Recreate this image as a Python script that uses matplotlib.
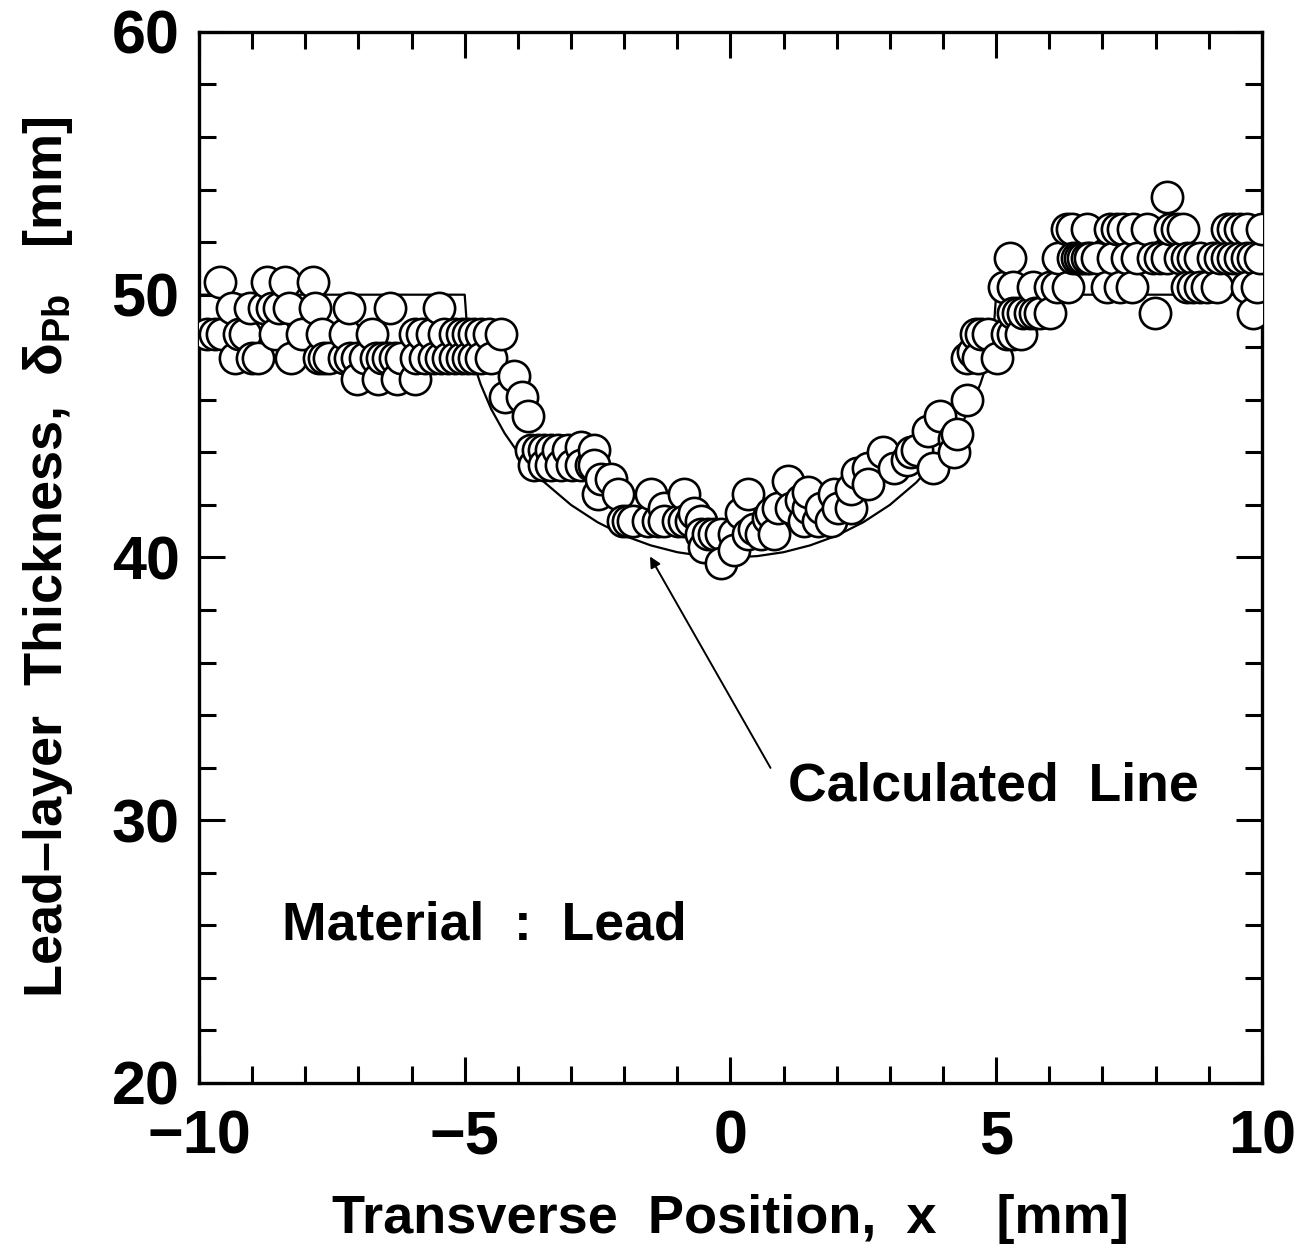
import matplotlib.pyplot as plt
from matplotlib.ticker import MultipleLocator

plt.rcParams['font.family'] = ['Liberation Sans', 'DejaVu Sans']
plt.rcParams['font.weight'] = 'bold'
plt.rcParams['mathtext.fontset'] = 'custom'
plt.rcParams['mathtext.rm'] = 'Liberation Sans:bold'
plt.rcParams['mathtext.it'] = 'Liberation Sans:bold'
plt.rcParams['mathtext.bf'] = 'Liberation Sans:bold'

# measured points, read off the figure
# left plateau (x < -4.3), grouped by thickness level
row_505_x = [-9.61, -8.72, -8.38, -7.86]
row_495_x = [-9.38, -9.04, -8.78, -8.63, -8.50, -8.31, -7.82, -7.18, -6.41, -5.49]
row_485_x = [-9.85, -9.70, -9.57, -9.25, -9.14, -8.57, -8.07, -7.69, -7.26, -6.75,
             -5.94, -5.81, -5.62, -5.38, -5.19, -5.06, -4.93, -4.82, -4.69, -4.55, -4.31]
row_476_x = [-9.32, -9.00, -8.89, -8.27, -7.75, -7.65, -7.56, -7.28, -7.16, -7.03,
             -6.88, -6.66, -6.56, -6.45, -6.32, -6.19, -5.91, -5.74, -5.57, -5.44,
             -5.31, -5.19, -5.06, -4.93, -4.82, -4.69, -4.50]
row_468_x = [-7.03, -6.64, -6.28, -5.94]

# groove region (-4.3 < x < 5.5)
groove_x = [-4.07, -4.25, -3.93, -3.80,
            -3.75, -3.62, -3.50, -3.37, -3.24, -3.05, -2.81, -2.56,
            -3.69, -3.50, -3.37, -3.18, -2.99, -2.81, -2.62, -2.56,
            -2.43, -2.24, -2.49, -2.11, -1.49, -0.87, -1.25, -0.69,
            -2.02, -1.92, -1.83, -1.55, -1.36, -1.25, -0.99, -0.87, -0.74, -0.55,
            -0.55, -0.42, -0.31, -0.18, 0.07, 0.33, 0.57, 0.82,
            -0.50, -0.18, 0.07,
            0.33, 0.20, 0.44, 0.76, 0.70, 1.08,
            0.89, 1.14, 1.46, 1.70, 2.02, 2.26,
            1.38, 1.64, 1.89,
            1.32, 1.46, 1.94, 2.26, 2.39, 2.58, 2.58, 2.88, 3.07, 3.33, 3.39,
            3.52, 3.71, 3.82, 3.95, 4.20, 4.20, 4.27, 4.46,
            4.57, 4.65, 4.45, 4.84, 4.72, 4.62, 5.02, 5.21, 5.32, 5.46]
groove_y = [46.9, 46.1, 46.1, 45.4,
            44.1, 44.1, 44.1, 44.1, 44.1, 44.1, 44.2, 44.1,
            43.5, 43.5, 43.5, 43.5, 43.5, 43.5, 43.5, 43.5,
            43.0, 43.0, 42.4, 42.4, 42.4, 42.4, 41.9, 41.7,
            41.4, 41.4, 41.4, 41.4, 41.4, 41.4, 41.4, 41.4, 41.4, 41.4,
            40.9, 40.9, 40.9, 40.9, 40.9, 40.9, 40.9, 40.9,
            40.4, 39.8, 40.3,
            42.4, 41.7, 41.1, 41.7, 41.5, 42.9,
            41.9, 41.9, 41.9, 41.9, 41.9, 41.9,
            41.4, 41.4, 41.4,
            42.2, 42.5, 42.4, 42.6, 43.2, 43.4, 42.8, 44.0, 43.4, 43.7, 44.0,
            44.1, 44.8, 43.4, 45.4, 44.5, 44.0, 44.7, 46.0,
            47.8, 47.6, 47.6, 48.5, 48.5, 48.5, 47.6, 48.5, 48.5, 48.5]

# right plateau (x > 5), grouped by thickness level
row_537_x = [8.22]
row_525_x = [6.34, 6.43, 6.71, 7.15, 7.28, 7.39, 7.58, 7.84, 8.27, 8.40, 8.52,
             9.34, 9.46, 9.59, 9.72, 10.0]
row_514_x = [5.27, 6.17, 6.45, 6.53, 6.58, 6.64, 6.71, 6.77, 6.90, 7.20, 7.46, 7.65,
             7.95, 8.08, 8.22, 8.46, 8.59, 8.70, 8.84, 9.08, 9.21, 9.34, 9.46, 9.59,
             9.72, 9.83, 9.96]
row_503_x = [5.14, 5.32, 5.70, 6.02, 6.15, 6.36, 7.09, 7.33, 7.56, 8.59, 8.70, 8.84,
             8.97, 9.15, 9.72, 9.91]
row_493_x = [5.32, 5.42, 5.51, 5.64, 5.74, 5.83, 6.02, 7.99, 9.83]

# calculated line
calc_x = [-10.0, -5.0, -4.95, -4.9, -4.8, -4.7, -4.5, -4.25, -4.0, -3.5, -3.0, -2.5,
          -2.0, -1.5, -1.0, -0.5, 0.0, 0.5, 1.0, 1.5, 2.0, 2.5, 3.0, 3.5, 4.0,
          4.25, 4.5, 4.7, 4.8, 4.9, 4.95, 5.0, 10.0]
calc_y = [50.0, 50.0, 48.59, 48.01, 47.2, 46.59, 45.64, 44.73, 44.0, 42.86, 42.0, 41.34,
          40.83, 40.46, 40.2, 40.05, 40.0, 40.05, 40.2, 40.46, 40.83, 41.34, 42.0, 42.86,
          44.0, 44.73, 45.64, 46.59, 47.2, 48.01, 48.59, 50.0, 50.0]

rows = [(row_505_x, 50.5), (row_495_x, 49.5), (row_485_x, 48.5), (row_476_x, 47.6),
        (row_468_x, 46.8), (row_537_x, 53.7), (row_525_x, 52.5), (row_514_x, 51.4),
        (row_503_x, 50.3), (row_493_x, 49.3)]
pts = list(zip(groove_x, groove_y))
for xs, lev in rows:
    pts += [(xv, lev) for xv in xs]
pts.sort(key=lambda p: p[0])  # draw left to right, so later circles overlap earlier ones
px = [p[0] for p in pts]
py = [p[1] for p in pts]

fig = plt.figure(figsize=(13.09, 12.52), dpi=100)
ax = fig.add_axes([0.152, 0.135, 0.812, 0.8395])

ax.plot(calc_x, calc_y, color='black', lw=1.6, zorder=2)
ax.plot(px, py, linestyle='none', marker='o', markersize=22.5, mfc='white',
        mec='black', mew=1.9, zorder=3)

ax.set_xlim(-10, 10)
ax.set_ylim(20, 60)
ax.xaxis.set_major_locator(MultipleLocator(5))
ax.xaxis.set_minor_locator(MultipleLocator(1))
ax.yaxis.set_major_locator(MultipleLocator(10))
ax.yaxis.set_minor_locator(MultipleLocator(2))
ax.tick_params(which='both', direction='in', top=True, right=True, width=2.2)
ax.tick_params(which='major', length=19)
ax.tick_params(which='minor', length=12)
ax.tick_params(axis='x', which='major', pad=19, labelsize=44)
ax.tick_params(axis='y', which='major', pad=14, labelsize=44)
for sp in ax.spines.values():
    sp.set_linewidth(2.4)

ax.set_xlabel('Transverse  Position,  x    [mm]', fontsize=39, fontweight='bold', labelpad=20)
ax.set_ylabel(r'Lead–layer  Thickness,  $\delta_{\rm Pb}$   [mm]', fontsize=39,
              fontweight='bold', labelpad=26)

ax.text(4.94, 31.3, 'Calculated  Line', fontsize=38.5, fontweight='bold', ha='center', va='center')
ax.text(-4.64, 26.0, 'Material  :  Lead', fontsize=38.5, fontweight='bold', ha='center', va='center')
ax.annotate('', xy=(-1.54, 40.13), xytext=(0.78, 31.9),
            arrowprops=dict(arrowstyle='-|>', color='black', lw=1.4, mutation_scale=16))

fig.savefig('out.png', dpi=100)
